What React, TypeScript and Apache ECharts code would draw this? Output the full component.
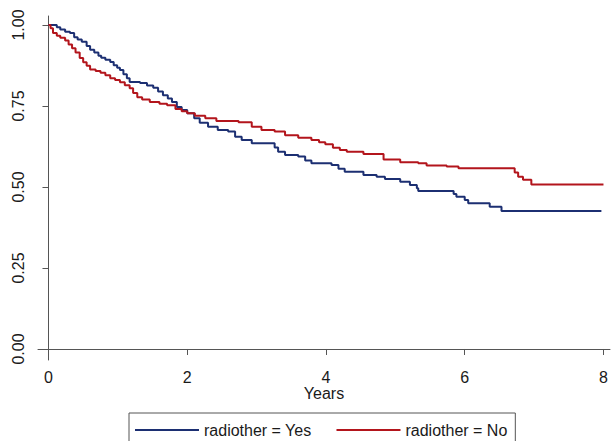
import React, { useEffect, useRef } from "react";
import * as echarts from "echarts";

const xTicks = [0, 2, 4, 6, 8];
const yTicks = [0, 0.25, 0.5, 0.75, 1.0];

const yesTime = [0, 0.12, 0.17, 0.24, 0.31, 0.37, 0.42, 0.48, 0.55, 0.6, 0.66, 0.72, 0.76, 0.82, 0.89, 0.94, 0.99, 1.03, 1.08, 1.13, 1.17, 1.32, 1.42, 1.51, 1.58, 1.65, 1.72, 1.78, 1.85, 1.92, 2.0, 2.1, 2.18, 2.3, 2.44, 2.59, 2.69, 2.785, 2.93, 3.26, 3.31, 3.41, 3.6, 3.7, 3.79, 4.08, 4.18, 4.27, 4.54, 4.73, 4.85, 5.07, 5.21, 5.31, 5.33, 5.84, 5.88, 6.0, 6.05, 6.36, 6.53, 7.97];
const yesSurv = [1.0, 0.993, 0.986, 0.979, 0.975, 0.962, 0.955, 0.948, 0.935, 0.924, 0.915, 0.905, 0.899, 0.893, 0.886, 0.876, 0.868, 0.861, 0.848, 0.836, 0.824, 0.821, 0.813, 0.806, 0.795, 0.783, 0.773, 0.762, 0.747, 0.738, 0.728, 0.712, 0.698, 0.686, 0.676, 0.671, 0.655, 0.645, 0.635, 0.622, 0.609, 0.599, 0.594, 0.582, 0.573, 0.568, 0.556, 0.547, 0.537, 0.532, 0.525, 0.516, 0.506, 0.496, 0.488, 0.478, 0.47, 0.46, 0.45, 0.439, 0.426, 0.426];

const noTime = [0, 0.03, 0.065, 0.12, 0.17, 0.24, 0.29, 0.34, 0.39, 0.45, 0.5, 0.55, 0.6, 0.68, 0.75, 0.82, 0.89, 0.96, 1.03, 1.1, 1.17, 1.22, 1.28, 1.35, 1.46, 1.6, 1.71, 1.83, 1.92, 2.0, 2.11, 2.26, 2.42, 2.74, 2.93, 3.07, 3.26, 3.41, 3.6, 3.79, 3.9, 3.99, 4.1, 4.2, 4.3, 4.54, 4.83, 5.07, 5.33, 5.45, 5.74, 5.91, 6.72, 6.77, 6.84, 6.96, 8.0];
const noSurv = [1.0, 0.99, 0.975, 0.967, 0.961, 0.952, 0.94, 0.928, 0.915, 0.898, 0.885, 0.874, 0.863, 0.858, 0.853, 0.845, 0.836, 0.83, 0.823, 0.814, 0.805, 0.79, 0.777, 0.77, 0.762, 0.757, 0.752, 0.741, 0.734, 0.728, 0.72, 0.712, 0.704, 0.7, 0.686, 0.676, 0.671, 0.66, 0.652, 0.645, 0.638, 0.632, 0.621, 0.614, 0.609, 0.602, 0.585, 0.576, 0.573, 0.566, 0.563, 0.558, 0.545, 0.532, 0.522, 0.508, 0.508];

const seriesNames = ["radiother = Yes", "radiother = No"];
const colors = ["#1c2f72", "#b3151c"];

const FONT = "'Liberation Sans', Arial, sans-serif";

export default function App() {
  const ref = useRef<HTMLDivElement>(null);
  useEffect(() => {
    if (!ref.current) return;
    const chart = echarts.init(ref.current, undefined, { renderer: "svg" });
    const pairs = (t: number[], s: number[]) => t.map((v, i) => [v, s[i]]);
    chart.setOption({
      animation: false,
      backgroundColor: "#ffffff",
      textStyle: { fontFamily: FONT },
      grid: { left: 38, right: 2, top: 16, bottom: 81, containLabel: false },
      xAxis: {
        type: "value",
        min: -0.151,
        max: 8.094,
        name: "Years",
        nameLocation: "middle",
        nameGap: 25,
        nameMoveOverlap: false,
        nameTextStyle: { color: "#1a1a1a", fontSize: 16, fontFamily: FONT, verticalAlign: "top" },
        axisLine: { show: true, lineStyle: { color: "#555555", width: 1 } },
        axisTick: { show: true, length: 6, customValues: xTicks, lineStyle: { color: "#555555" } },
        axisLabel: {
          customValues: xTicks,
          color: "#1a1a1a",
          fontSize: 16,
          fontFamily: FONT,
          margin: 9,
          formatter: (v: number) => String(v),
        },
        splitLine: { show: false },
      },
      yAxis: {
        type: "value",
        min: -0.034,
        max: 1.0278,
        axisLine: { show: true, lineStyle: { color: "#555555", width: 1 } },
        axisTick: { show: true, length: 6, customValues: yTicks, lineStyle: { color: "#555555" } },
        axisLabel: {
          customValues: yTicks,
          rotate: 90,
          color: "#1a1a1a",
          fontSize: 16,
          fontFamily: FONT,
          margin: 12,
          formatter: (v: number) => v.toFixed(2),
        },
        splitLine: { show: false },
      },
      legend: {
        left: 129,
        top: 413,
        orient: "horizontal",
        padding: [9, 8, 9, 6],
        itemGap: 25,
        borderColor: "#555555",
        borderWidth: 1,
        borderRadius: 0,
        icon: "rect",
        itemWidth: 64,
        itemHeight: 2,
        textStyle: { color: "#1a1a1a", fontSize: 16, fontFamily: FONT },
        data: seriesNames,
      },
      series: [
        {
          name: seriesNames[0],
          type: "line",
          step: "end",
          symbol: "none",
          color: colors[0],
          lineStyle: { color: colors[0], width: 2 },
          data: pairs(yesTime, yesSurv),
        },
        {
          name: seriesNames[1],
          type: "line",
          step: "end",
          symbol: "none",
          color: colors[1],
          lineStyle: { color: colors[1], width: 2 },
          data: pairs(noTime, noSurv),
        },
      ],
    });
    return () => chart.dispose();
  }, []);
  return (
    <div
      ref={ref}
      style={{ position: "fixed", left: 0, top: 0, width: 612, height: 441, background: "#fff" }}
    />
  );
}
